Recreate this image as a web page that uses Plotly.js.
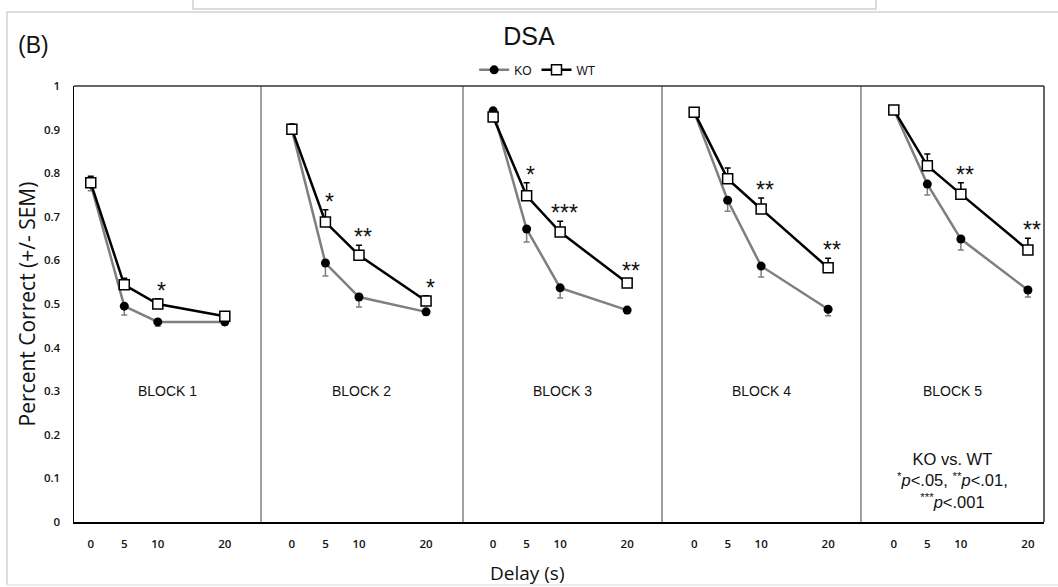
<!DOCTYPE html>
<html>
<head>
<meta charset="utf-8">
<script src="https://cdn.plot.ly/plotly-3.0.1.min.js"></script>
<style>html,body{margin:0;padding:0;background:#fff;}#chart{width:1058px;height:587px;}</style>
</head>
<body>
<div id="chart"></div>
<script>
// ---- data ----
const delays = [0, 5, 10, 20];
const blockNames = ['BLOCK 1', 'BLOCK 2', 'BLOCK 3', 'BLOCK 4', 'BLOCK 5'];

const koB1 = [0.775, 0.495, 0.459, 0.459];
const koB2 = [0.900, 0.594, 0.516, 0.482];
const koB3 = [0.943, 0.672, 0.537, 0.486];
const koB4 = [0.940, 0.738, 0.587, 0.488];
const koB5 = [0.945, 0.775, 0.649, 0.532];

const wtB1 = [0.778, 0.544, 0.500, 0.472];
const wtB2 = [0.901, 0.688, 0.612, 0.507];
const wtB3 = [0.929, 0.748, 0.665, 0.548];
const wtB4 = [0.940, 0.787, 0.718, 0.583];
const wtB5 = [0.945, 0.817, 0.752, 0.624];

const koErrB1 = [0.015, 0.020, 0.010, 0.008];
const koErrB2 = [0.010, 0.030, 0.023, 0.008];
const koErrB3 = [0.008, 0.030, 0.023, 0.008];
const koErrB4 = [0.008, 0.025, 0.025, 0.015];
const koErrB5 = [0.008, 0.025, 0.025, 0.016];

const wtErrB1 = [0.015, 0.015, 0.012, 0.008];
const wtErrB2 = [0.012, 0.028, 0.023, 0.012];
const wtErrB3 = [0.010, 0.030, 0.025, 0.010];
const wtErrB4 = [0.008, 0.025, 0.025, 0.022];
const wtErrB5 = [0.008, 0.027, 0.026, 0.027];

const sigB1 = ['', '', '*', ''];
const sigB2 = ['', '*', '**', '*'];
const sigB3 = ['', '*', '***', '**'];
const sigB4 = ['', '', '**', '**'];
const sigB5 = ['', '', '**', '**'];

const yTicks = [0, 0.1, 0.2, 0.3, 0.4, 0.5, 0.6, 0.7, 0.8, 0.9, 1];
const yTickText = ['0', '0.1', '0.2', '0.3', '0.4', '0.5', '0.6', '0.7', '0.8', '0.9', '1'];

// ---- layout constants ----
const ko = [koB1, koB2, koB3, koB4, koB5];
const wt = [wtB1, wtB2, wtB3, wtB4, wtB5];
const koErr = [koErrB1, koErrB2, koErrB3, koErrB4, koErrB5];
const wtErr = [wtErrB1, wtErrB2, wtErrB3, wtErrB4, wtErrB5];
const sig = [sigB1, sigB2, sigB3, sigB4, sigB5];

const domains = [[0, 0.1928], [0.1928, 0.401], [0.401, 0.6062], [0.6062, 0.8113], [0.8113, 1]];
const ranges = [[-2.5, 25.4], [-4.6, 25.5], [-4.5, 25.2], [-4.8, 24.9], [-4.9, 22.4]];

const tickFont = {family: 'Open Sans, DejaVu Sans, sans-serif', size: 11.5, color: '#111', weight: 600};
const traces = [];
const layout = {
  width: 1058, height: 587,
  margin: {l: 74, r: 14, t: 86, b: 65},
  paper_bgcolor: '#fff', plot_bgcolor: '#fff',
  showlegend: true,
  legend: {orientation: 'h', x: 0.478, xanchor: 'center', y: 1.037, yanchor: 'middle',
           font: {family: 'Liberation Sans, Arial, sans-serif', size: 12, color: '#111'},
           itemwidth: 30, tracegroupgap: 0, bgcolor: 'rgba(0,0,0,0)'},
  title: {text: 'DSA', x: 0.5, xref: 'container', xanchor: 'center',
          y: 1 - 36 / 587, yref: 'container', yanchor: 'middle',
          font: {family: 'Liberation Sans Narrow, Liberation Sans, Arial, sans-serif', size: 25, color: '#111'}},
  yaxis: {range: [0, 1], domain: [0, 1], tickvals: yTicks, ticktext: yTickText,
          showgrid: false, zeroline: false, showline: true, linecolor: '#000', linewidth: 1.5,
          ticks: '', ticklabelstandoff: 10, tickfont: tickFont, anchor: 'x',
          title: {text: 'Percent Correct (+/- SEM)', standoff: 2,
                  font: {family: 'Open Sans, Liberation Sans, sans-serif', size: 21, color: '#111'}}},
  annotations: [],
  shapes: []
};

for (let b = 0; b < 5; b++) {
  const xa = b === 0 ? 'x' : 'x' + (b + 1);
  const xKey = b === 0 ? 'xaxis' : 'xaxis' + (b + 1);
  layout[xKey] = {domain: domains[b], range: ranges[b], anchor: 'y',
                  tickvals: delays, ticktext: delays.map(String),
                  showgrid: false, zeroline: false, showline: true, linecolor: '#000', linewidth: 1.5,
                  ticks: '', ticklabelstandoff: 11, tickfont: tickFont, fixedrange: true};
  traces.push({
    x: delays, y: ko[b], xaxis: xa, yaxis: 'y', name: 'KO', legendgroup: 'KO',
    showlegend: b === 0, mode: 'lines+markers', type: 'scatter',
    line: {color: '#7f7f7f', width: 2.5},
    marker: {symbol: 'circle', size: 9, color: '#000', line: {color: '#000', width: 0}},
    error_y: {type: 'data', symmetric: false, array: ko[b].map(() => 0), arrayminus: koErr[b],
              color: '#7f7f7f', thickness: 1.5, width: 3}
  });
  traces.push({
    x: delays, y: wt[b], xaxis: xa, yaxis: 'y', name: 'WT', legendgroup: 'WT',
    showlegend: b === 0, mode: 'lines+markers', type: 'scatter',
    line: {color: '#000', width: 2.5},
    marker: {symbol: 'square', size: 10, color: '#fff', line: {color: '#000', width: 1.5}},
    error_y: {type: 'data', symmetric: false, array: wtErr[b], arrayminus: wt[b].map(() => 0),
              color: '#000', thickness: 1.5, width: 3}
  });
  // significance stars above WT error bars
  for (let i = 0; i < delays.length; i++) {
    if (sig[b][i]) {
      layout.annotations.push({
        x: delays[i], y: wt[b][i] + wtErr[b][i], xref: xa, yref: 'y',
        text: sig[b][i], showarrow: false, xanchor: 'center', yanchor: 'bottom',
        xshift: 4, yshift: -7,
        font: {family: 'Liberation Sans, Arial, sans-serif', size: 23, color: '#111'}
      });
    }
  }
  // block label
  layout.annotations.push({
    x: (domains[b][0] + domains[b][1]) / 2, y: 0.3, xref: 'paper', yref: 'y',
    text: blockNames[b], showarrow: false, xanchor: 'center', yanchor: 'middle',
    font: {family: 'Liberation Sans, Arial, sans-serif', size: 14, color: '#111'}
  });
  // dividers
  if (b > 0) {
    layout.shapes.push({type: 'line', xref: 'paper', yref: 'paper', x0: domains[b][0], x1: domains[b][0],
                        y0: 0, y1: 1, line: {color: '#808080', width: 1.5}});
  }
}

// plot frame (top and right)
layout.shapes.push({type: 'line', xref: 'paper', yref: 'paper', x0: 0, x1: 1, y0: 1, y1: 1, line: {color: '#333', width: 1.5}});
layout.shapes.push({type: 'line', xref: 'paper', yref: 'paper', x0: 1, x1: 1, y0: 0, y1: 1, line: {color: '#333', width: 1.5}});
// outer figure frame (light gray, from the source page)
const px = v => (v - 74) / 970;
const py = v => (522 - v) / 436;
layout.shapes.push({type: 'path', xref: 'paper', yref: 'paper',
  path: `M ${px(7)} ${py(585)} L ${px(7)} ${py(12)} L ${px(1060)} ${py(12)}`,
  line: {color: '#d4d4d4', width: 1.5}});
layout.shapes.push({type: 'line', xref: 'paper', yref: 'paper', x0: px(7), x1: px(1060), y0: py(585), y1: py(585),
  line: {color: '#e6e6e6', width: 1.5}});
layout.shapes.push({type: 'rect', xref: 'paper', yref: 'paper', x0: px(193), x1: px(876), y0: py(-3), y1: py(9),
  fillcolor: '#fff', line: {color: '#cfcfcf', width: 1.5}});

// texts
layout.annotations.push({x: px(16), y: py(45), xref: 'paper', yref: 'paper', text: '(B)', showarrow: false,
  xanchor: 'left', yanchor: 'middle',
  font: {family: 'Liberation Sans Narrow, Liberation Sans, Arial, sans-serif', size: 23, color: '#111'}});
layout.annotations.push({x: px(527), y: py(573), xref: 'paper', yref: 'paper', text: 'Delay (s)', showarrow: false,
  xanchor: 'center', yanchor: 'middle',
  font: {family: 'Open Sans, Liberation Sans, sans-serif', size: 19, color: '#111'}});
layout.annotations.push({x: (domains[4][0] + domains[4][1]) / 2, y: py(480), xref: 'paper', yref: 'paper',
  text: 'KO vs. WT<br><sup>*</sup><i>p</i>&lt;.05, <sup>**</sup><i>p</i>&lt;.01,<br><sup>***</sup><i>p</i>&lt;.001',
  showarrow: false, xanchor: 'center', yanchor: 'middle', align: 'center',
  font: {family: 'Liberation Sans, Arial, sans-serif', size: 16.5, color: '#111'}});

Plotly.newPlot('chart', traces, layout, {displayModeBar: false, staticPlot: true});
</script>
</body>
</html>
